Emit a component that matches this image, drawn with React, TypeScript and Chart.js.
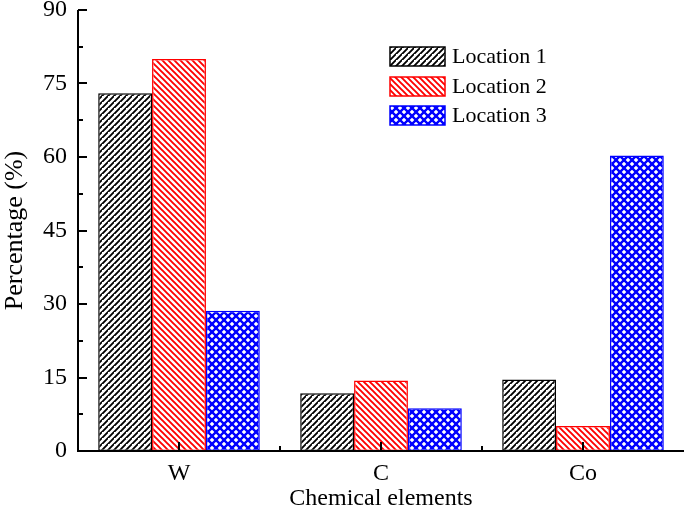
import React, { useEffect, useRef } from "react";
import { Chart, registerables } from "chart.js";

Chart.register(...registerables);

const categories = ["W", "C", "Co"];
const seriesNames = ["Location 1", "Location 2", "Location 3"];
const location1 = [73.0, 11.8, 14.6];
const location2 = [80.0, 14.4, 5.1];
const location3 = [28.6, 8.7, 60.3];
const yMin = 0;
const yMax = 90;
const yStep = 15;

const FONT = "'Liberation Serif', 'Times New Roman', serif";

function makeHatch(kind: "fwd" | "back" | "cross", color: string): CanvasPattern | string {
  const c = document.createElement("canvas");
  const size = kind === "cross" ? 8 : 6;
  c.width = size;
  c.height = size;
  const g = c.getContext("2d");
  if (!g) return color;
  g.fillStyle = "#fff";
  g.fillRect(0, 0, size, size);
  g.strokeStyle = color;
  g.lineWidth = kind === "cross" ? 2.4 : 1.9;
  const drawFwd = () => {
    g.beginPath();
    g.moveTo(-size, size * 2);
    g.lineTo(size * 2, -size);
    g.moveTo(-size * 2, size);
    g.lineTo(size, -size * 2);
    g.moveTo(0, size * 2);
    g.lineTo(size * 2, 0);
    g.stroke();
  };
  const drawBack = () => {
    g.beginPath();
    g.moveTo(-size, -size);
    g.lineTo(size * 2, size * 2);
    g.moveTo(0, -size);
    g.lineTo(size * 2, size);
    g.moveTo(-size, 0);
    g.lineTo(size, size * 2);
    g.stroke();
  };
  if (kind === "fwd") drawFwd();
  else if (kind === "back") drawBack();
  else {
    drawFwd();
    drawBack();
  }
  const p = g.createPattern(c, "repeat");
  return p || color;
}

export default function App() {
  const ref = useRef<HTMLCanvasElement | null>(null);

  useEffect(() => {
    if (!ref.current) return;
    const fills = [
      makeHatch("fwd", "#000000"),
      makeHatch("back", "#ff0000"),
      makeHatch("cross", "#0000ff"),
    ];
    const borders = ["#000000", "#ff0000", "#0000ff"];
    const values = [location1, location2, location3];

    const axesPlugin = {
      id: "axesPlugin",
      afterDraw(chart: any) {
        const { ctx, chartArea } = chart;
        const { left, right, top, bottom } = chartArea;
        const x = chart.scales.x;
        const y = chart.scales.y;
        ctx.save();
        ctx.strokeStyle = "#000";
        ctx.lineWidth = 2;
        ctx.beginPath();
        ctx.moveTo(left, top);
        ctx.lineTo(left, bottom);
        ctx.lineTo(right, bottom);
        ctx.stroke();
        ctx.beginPath();
        for (let v = yMin; v <= yMax; v += yStep) {
          const py = Math.round(y.getPixelForValue(v));
          ctx.moveTo(left, py);
          ctx.lineTo(left + 9, py);
          if (v + yStep / 2 < yMax) {
            const pm = Math.round(y.getPixelForValue(v + yStep / 2));
            ctx.moveTo(left, pm);
            ctx.lineTo(left + 5, pm);
          }
        }
        for (let i = 0; i < categories.length; i++) {
          const px = Math.round(x.getPixelForValue(i));
          ctx.moveTo(px, bottom);
          ctx.lineTo(px, bottom - 9);
          if (i < categories.length - 1) {
            const pb = Math.round((x.getPixelForValue(i) + x.getPixelForValue(i + 1)) / 2);
            ctx.moveTo(pb, bottom);
            ctx.lineTo(pb, bottom - 5);
          }
        }
        ctx.stroke();

        // legend
        const lx = 390;
        const ly = [47, 77, 106];
        const bw = 55;
        const bh = 19;
        ctx.font = `22px ${FONT}`;
        ctx.textBaseline = "middle";
        ctx.textAlign = "left";
        for (let i = 0; i < seriesNames.length; i++) {
          ctx.fillStyle = fills[i] as any;
          ctx.fillRect(lx, ly[i], bw, bh);
          ctx.strokeStyle = borders[i];
          ctx.lineWidth = 1.5;
          ctx.strokeRect(lx, ly[i], bw, bh);
          ctx.fillStyle = "#000";
          ctx.fillText(seriesNames[i], lx + bw + 7, ly[i] + bh / 2 + 1);
        }
        ctx.restore();
      },
    };

    const chart = new Chart(ref.current, {
      type: "bar",
      data: {
        labels: categories,
        datasets: seriesNames.map((name, i) => ({
          label: name,
          data: values[i],
          backgroundColor: fills[i] as any,
          borderColor: borders[i],
          borderWidth: 1.5,
          borderSkipped: false as any,
          categoryPercentage: 0.8,
          barPercentage: 1.0,
        })),
      },
      options: {
        animation: false,
        responsive: false,
        maintainAspectRatio: false,
        layout: { padding: { top: 10, right: 1, left: 0, bottom: 0 } },
        plugins: {
          legend: { display: false },
          tooltip: { enabled: false },
        },
        scales: {
          x: {
            grid: { display: false, drawTicks: false },
            border: { display: false },
            ticks: {
              color: "#000",
              font: { family: FONT, size: 24 },
              padding: 8,
            },
            title: {
              display: true,
              text: "Chemical elements",
              color: "#000",
              font: { family: FONT, size: 24 },
              padding: { top: 0, bottom: 3 },
            },
            afterFit(scale: any) {
              scale.height = 65;
              scale.paddingLeft = 0;
              scale.paddingRight = 0;
            },
          },
          y: {
            min: yMin,
            max: yMax,
            grid: { display: false, drawTicks: false },
            border: { display: false },
            ticks: {
              stepSize: yStep,
              color: "#000",
              font: { family: FONT, size: 24 },
              padding: 11,
            },
            title: {
              display: true,
              text: "Percentage (%)",
              color: "#000",
              font: { family: FONT, size: 26 },
              padding: { top: 0, bottom: 0 },
            },
            afterFit(scale: any) {
              scale.width = 78;
              scale.paddingTop = 0;
              scale.paddingBottom = 0;
            },
          },
        },
      },
      plugins: [axesPlugin],
    });
    return () => chart.destroy();
  }, []);

  return (
    <div style={{ position: "fixed", left: 0, top: 0, width: 685, height: 516, background: "#fff" }}>
      <canvas ref={ref} width={685} height={516} style={{ width: 685, height: 516 }} />
    </div>
  );
}
